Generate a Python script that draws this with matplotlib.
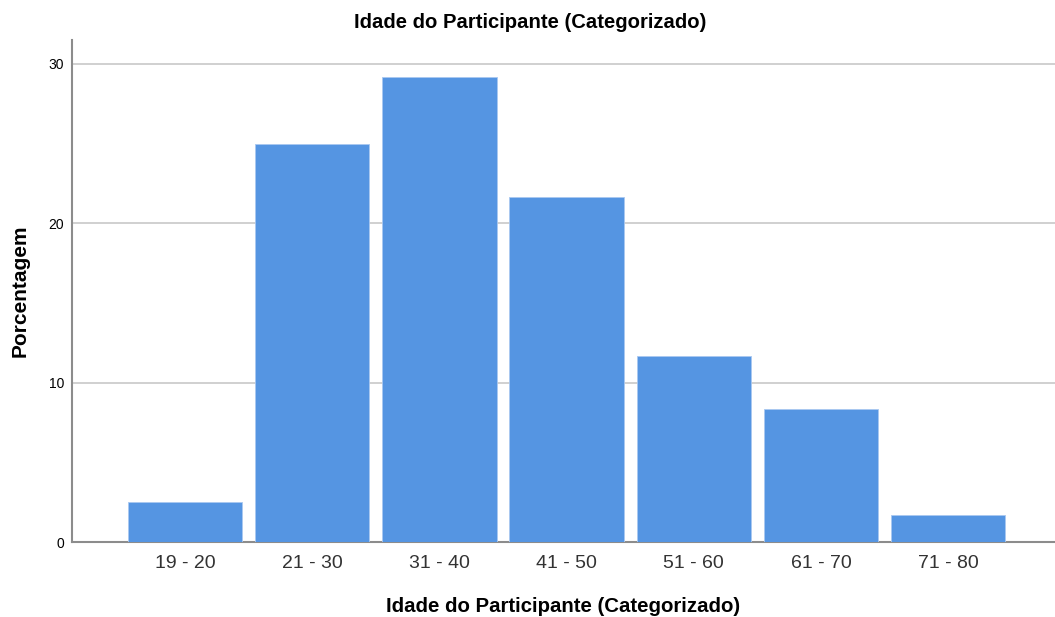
import matplotlib
matplotlib.use("Agg")
import matplotlib.pyplot as plt

plt.rcParams['font.family'] = ['Liberation Sans', 'DejaVu Sans']

# Age group distribution (percent of participants)
categories = ['19 - 20', '21 - 30', '31 - 40', '41 - 50', '51 - 60', '61 - 70', '71 - 80']
percentages = [2.5, 25.0, 29.17, 21.67, 11.67, 8.33, 1.67]

fig = plt.figure(figsize=(10.55, 6.17), dpi=100)
ax = fig.add_axes([72 / 1055, 75 / 617, 983 / 1055, 502 / 617])

x = range(len(categories))
ax.bar(x, percentages, width=0.9, color='#5595e2', edgecolor='#a9c8f0', linewidth=0.6, zorder=3)

ax.set_xlim(-0.888, 6.84)
ax.set_ylim(0, 31.5)
ax.set_yticks([0, 10, 20, 30])
ax.set_xticks(list(x))
ax.set_xticklabels(categories, fontsize=14, color='#333333')
ax.tick_params(axis='y', labelsize=10, length=0, pad=5.5)
ax.tick_params(axis='x', length=0, pad=9)

ax.grid(axis='y', color='#c8c8c8', linewidth=1.2, zorder=0)
for side in ['top', 'right']:
    ax.spines[side].set_visible(False)
ax.spines['left'].set_color('#8c8c8c')
ax.spines['bottom'].set_color('#8c8c8c')
ax.spines['left'].set_linewidth(1.5)
ax.spines['bottom'].set_linewidth(1.5)

ax.set_xlabel('Idade do Participante (Categorizado)', fontsize=14.7, fontweight='bold', labelpad=18)
ax.set_ylabel('Porcentagem', fontsize=15, fontweight='bold', labelpad=14)
fig.text(530 / 1055, 1 - 23 / 617, 'Idade do Participante (Categorizado)', fontsize=14.6,
         fontweight='bold', ha='center', va='center')

fig.savefig('out.png', dpi=100)
